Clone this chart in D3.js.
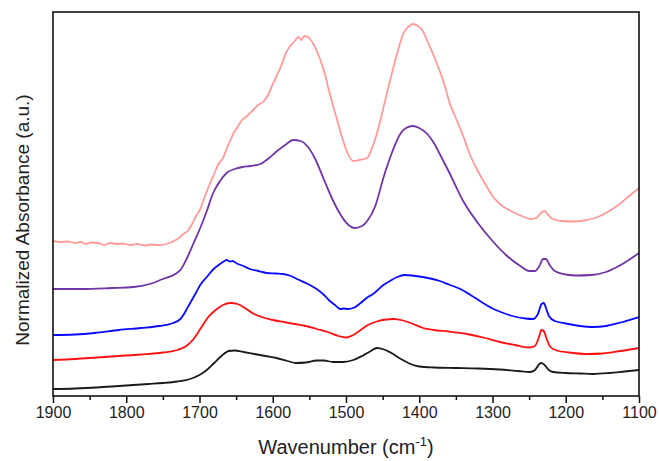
<!DOCTYPE html>
<html>
<head>
<meta charset="utf-8">
<script src="https://cdn.jsdelivr.net/npm/d3@7"></script>
<style>
  html, body { margin: 0; padding: 0; background: #fff; }
  svg { display: block; }
  text { font-family: "Liberation Sans", Arial, sans-serif; fill: #222; }
</style>
</head>
<body>
<svg id="chart" width="659" height="461"></svg>
<script>
// ---- data (wavenumber cm^-1, normalized absorbance a.u., offset stacked) ----
const xTicksMajor = [1900, 1800, 1700, 1600, 1500, 1400, 1300, 1200, 1100];
const xTicksMinor = [1850, 1750, 1650, 1550, 1450, 1350, 1250, 1150];

const seriesBlack = [[1900,.07],[1870,.075],[1840,.085],[1810,.10],[1790,.11],[1770,.12],[1750,.13],[1730,.145],[1715,.165],[1700,.21],[1690,.26],[1680,.33],[1670,.40],[1660,.45],[1652,.455],[1640,.44],[1625,.42],[1610,.40],[1595,.38],[1580,.35],[1568,.33],[1555,.335],[1540,.355],[1530,.355],[1518,.34],[1504,.34],[1490,.36],[1478,.40],[1466,.45],[1458,.48],[1448,.465],[1438,.43],[1425,.37],[1412,.32],[1400,.295],[1380,.285],[1350,.28],[1320,.275],[1290,.265],[1265,.25],[1249,.24],[1242,.26],[1236,.32],[1233,.33],[1229,.31],[1223,.26],[1217,.24],[1200,.23],[1180,.225],[1163,.22],[1140,.23],[1120,.245],[1100,.26]];

const seriesRed = [[1900,.36],[1870,.37],[1840,.385],[1810,.40],[1780,.415],[1750,.435],[1730,.46],[1718,.50],[1708,.57],[1698,.68],[1688,.79],[1678,.86],[1668,.91],[1658,.93],[1648,.92],[1638,.88],[1628,.83],[1615,.79],[1600,.76],[1585,.74],[1570,.72],[1555,.70],[1540,.67],[1525,.64],[1510,.60],[1500,.585],[1490,.61],[1480,.66],[1470,.71],[1458,.745],[1445,.765],[1435,.77],[1422,.755],[1410,.725],[1395,.68],[1380,.66],[1360,.645],[1335,.62],[1310,.58],[1290,.54],[1270,.51],[1250,.485],[1242,.50],[1237,.58],[1233,.66],[1230,.65],[1226,.57],[1221,.49],[1212,.455],[1195,.435],[1170,.42],[1150,.425],[1125,.45],[1100,.48]];

const seriesBlue = [[1900,.61],[1870,.615],[1843,.63],[1810,.66],[1780,.68],[1755,.70],[1738,.725],[1726,.77],[1715,.90],[1705,1.03],[1699,1.11],[1690,1.19],[1682,1.26],[1672,1.32],[1666,1.35],[1663,1.36],[1658,1.345],[1655,1.35],[1649,1.325],[1640,1.30],[1631,1.27],[1620,1.25],[1608,1.23],[1595,1.225],[1586,1.22],[1575,1.20],[1567,1.17],[1555,1.13],[1540,1.07],[1530,1.01],[1522,.95],[1515,.91],[1508,.87],[1503,.875],[1498,.87],[1490,.88],[1480,.93],[1470,.99],[1463,1.02],[1458,1.05],[1449,1.11],[1440,1.15],[1430,1.19],[1420,1.21],[1410,1.205],[1400,1.195],[1385,1.175],[1372,1.15],[1358,1.11],[1344,1.07],[1330,1.01],[1315,.94],[1300,.875],[1285,.83],[1270,.795],[1255,.775],[1245,.77],[1238,.82],[1233,.92],[1230,.93],[1227,.88],[1223,.80],[1215,.75],[1200,.725],[1180,.70],[1163,.69],[1145,.70],[1125,.735],[1100,.79]];

const seriesPurple = [[1900,1.07],[1860,1.07],[1820,1.08],[1790,1.09],[1768,1.12],[1750,1.17],[1733,1.22],[1725,1.27],[1717,1.38],[1708,1.53],[1699,1.68],[1690,1.85],[1682,2.02],[1672,2.15],[1663,2.23],[1652,2.27],[1641,2.29],[1630,2.30],[1617,2.32],[1605,2.38],[1594,2.45],[1583,2.51],[1572,2.56],[1562,2.55],[1553,2.50],[1542,2.37],[1531,2.18],[1520,1.99],[1508,1.82],[1498,1.72],[1488,1.68],[1478,1.70],[1471,1.75],[1460,1.90],[1449,2.18],[1438,2.42],[1426,2.62],[1418,2.68],[1409,2.70],[1400,2.68],[1389,2.62],[1380,2.53],[1372,2.42],[1358,2.22],[1340,1.95],[1320,1.73],[1300,1.55],[1280,1.40],[1262,1.30],[1250,1.25],[1242,1.25],[1236,1.30],[1231,1.37],[1227,1.37],[1222,1.31],[1215,1.25],[1200,1.215],[1185,1.205],[1165,1.21],[1145,1.24],[1125,1.31],[1100,1.43]];

const seriesPink = [[1900,1.55],[1890,1.54],[1880,1.545],[1870,1.53],[1862,1.54],[1855,1.52],[1848,1.535],[1838,1.53],[1830,1.51],[1822,1.53],[1812,1.52],[1805,1.525],[1795,1.51],[1785,1.52],[1775,1.505],[1765,1.515],[1755,1.51],[1745,1.52],[1738,1.54],[1730,1.57],[1722,1.62],[1716,1.65],[1710,1.72],[1704,1.81],[1699,1.87],[1693,1.99],[1686,2.12],[1680,2.22],[1674,2.32],[1668,2.38],[1662,2.49],[1657,2.57],[1654,2.62],[1648,2.69],[1642,2.76],[1635,2.80],[1628,2.85],[1620,2.91],[1612,2.95],[1605,3.03],[1600,3.12],[1594,3.21],[1588,3.31],[1582,3.43],[1576,3.50],[1570,3.55],[1565,3.59],[1561,3.56],[1557,3.60],[1552,3.59],[1549,3.57],[1543,3.50],[1536,3.38],[1530,3.25],[1522,3.02],[1514,2.81],[1505,2.58],[1498,2.43],[1490,2.35],[1482,2.36],[1471,2.38],[1465,2.47],[1458,2.62],[1450,2.85],[1440,3.15],[1430,3.43],[1422,3.62],[1415,3.69],[1409,3.72],[1402,3.70],[1395,3.65],[1389,3.55],[1380,3.40],[1372,3.25],[1365,3.10],[1358,2.92],[1350,2.78],[1340,2.60],[1330,2.40],[1320,2.25],[1310,2.12],[1300,2.00],[1290,1.92],[1275,1.85],[1260,1.80],[1248,1.77],[1240,1.78],[1234,1.83],[1229,1.85],[1225,1.82],[1218,1.77],[1205,1.75],[1190,1.745],[1175,1.755],[1160,1.78],[1145,1.83],[1130,1.90],[1115,1.99],[1100,2.08]];

const seriesList = [
  { data: seriesBlack,  color: "#1a1a1a" },
  { data: seriesRed,    color: "#ff1010" },
  { data: seriesBlue,   color: "#0a0aff" },
  { data: seriesPurple, color: "#7035a6" },
  { data: seriesPink,   color: "#ff9a9a" }
];

// ---- layout ----
const svg = d3.select("#chart");
const mLeft = 53, mRight = 639, mTop = 12, mBottom = 396;

const x = d3.scaleLinear().domain([1900, 1100]).range([mLeft, mRight]);
const y = d3.scaleLinear().domain([0, 3.84]).range([mBottom, mTop]);

// lines
const line = d3.line()
  .x(d => x(d[0]))
  .y(d => y(d[1]))
  .curve(d3.curveMonotoneX);

svg.append("g").selectAll("path")
  .data(seriesList)
  .join("path")
  .attr("d", d => line(d.data))
  .attr("fill", "none")
  .attr("stroke", d => d.color)
  .attr("stroke-width", 1.8)
  .attr("stroke-linejoin", "round");

// frame
svg.append("rect")
  .attr("x", mLeft).attr("y", mTop)
  .attr("width", mRight - mLeft).attr("height", mBottom - mTop)
  .attr("fill", "none").attr("stroke", "#111").attr("stroke-width", 1.6);

// x axis
const xAxis = d3.axisBottom(x)
  .tickValues(xTicksMajor)
  .tickSize(7)
  .tickPadding(4)
  .tickFormat(d3.format("d"));
const gx = svg.append("g").attr("transform", `translate(0,${mBottom})`).call(xAxis);
gx.select(".domain").remove();
gx.selectAll(".tick line").attr("stroke", "#111").attr("stroke-width", 1.5);
gx.selectAll(".tick text").attr("font-size", 16).attr("fill", "#222")
  .style("font-family", "'Liberation Sans', Arial, sans-serif");

const xAxisMinor = d3.axisBottom(x).tickValues(xTicksMinor).tickSize(4).tickFormat("");
const gxm = svg.append("g").attr("transform", `translate(0,${mBottom})`).call(xAxisMinor);
gxm.select(".domain").remove();
gxm.selectAll(".tick line").attr("stroke", "#111").attr("stroke-width", 1.5);

// axis titles
const xt = svg.append("text")
  .attr("x", (mLeft + mRight) / 2)
  .attr("y", 454)
  .attr("text-anchor", "middle")
  .attr("font-size", 20);
xt.append("tspan").text("Wavenumber (cm");
xt.append("tspan").attr("font-size", 13).attr("dy", -8).text("-1");
xt.append("tspan").attr("dy", 8).text(")");

svg.append("text")
  .attr("transform", `translate(29,${(mTop + mBottom) / 2 + 16}) rotate(-90)`)
  .attr("text-anchor", "middle")
  .attr("font-size", 19)
  .text("Normalized Absorbance (a.u.)");
</script>
</body>
</html>
